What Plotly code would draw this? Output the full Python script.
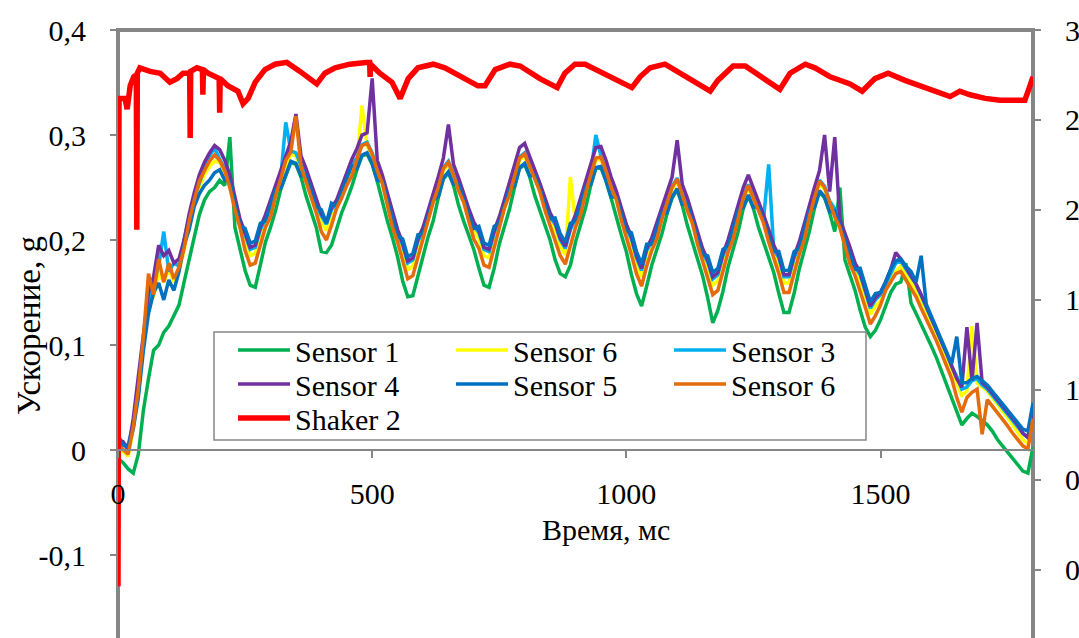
import plotly.graph_objects as go

# ---------------- data ----------------
time_ms = list(range(0, 1801, 10))

sensor1 = [
    -0.008, -0.012, -0.018, -0.022, -0.004, 0.038, 0.068, 0.095, 0.100, 0.112,
    0.118, 0.128, 0.138, 0.160, 0.182, 0.205, 0.224, 0.238, 0.246, 0.250,
    0.257, 0.252, 0.298, 0.212, 0.192, 0.171, 0.157, 0.155, 0.176, 0.198,
    0.212, 0.228, 0.248, 0.262, 0.274, 0.272, 0.260, 0.242, 0.228, 0.212,
    0.189, 0.188, 0.195, 0.212, 0.226, 0.238, 0.251, 0.267, 0.280, 0.282,
    0.272, 0.256, 0.236, 0.218, 0.202, 0.184, 0.161, 0.146, 0.147, 0.165,
    0.186, 0.203, 0.218, 0.240, 0.258, 0.264, 0.252, 0.233, 0.218, 0.204,
    0.191, 0.173, 0.157, 0.155, 0.173, 0.196, 0.212, 0.229, 0.250, 0.268,
    0.272, 0.260, 0.242, 0.228, 0.214, 0.200, 0.181, 0.168, 0.165, 0.176,
    0.198, 0.214, 0.231, 0.252, 0.268, 0.269, 0.256, 0.240, 0.221, 0.205,
    0.189, 0.167, 0.149, 0.137, 0.156, 0.176, 0.191, 0.206, 0.225, 0.240,
    0.248, 0.233, 0.214, 0.198, 0.182, 0.166, 0.145, 0.121, 0.133, 0.151,
    0.174, 0.191, 0.208, 0.230, 0.242, 0.230, 0.212, 0.198, 0.184, 0.169,
    0.149, 0.131, 0.131, 0.149, 0.172, 0.190, 0.208, 0.230, 0.246, 0.240,
    0.226, 0.208, 0.250, 0.181, 0.167, 0.152, 0.133, 0.117, 0.108, 0.114,
    0.124, 0.136, 0.150, 0.158, 0.160, 0.178, 0.140, 0.130, 0.120, 0.110,
    0.099, 0.088, 0.075, 0.062, 0.050, 0.037, 0.024, 0.030, 0.035, 0.032,
    0.028, 0.024, 0.018, 0.010, 0.004, -0.002, -0.008, -0.014, -0.020, -0.022, 0.003,
]

sensor6_yellow = [
    0.003, -0.002, -0.006, 0.020, 0.056, 0.100, 0.150, 0.145, 0.170, 0.160,
    0.172, 0.160, 0.170, 0.190, 0.215, 0.235, 0.250, 0.262, 0.270, 0.275,
    0.274, 0.264, 0.254, 0.233, 0.212, 0.199, 0.185, 0.187, 0.204, 0.216,
    0.230, 0.246, 0.256, 0.270, 0.282, 0.280, 0.268, 0.260, 0.246, 0.230,
    0.217, 0.209, 0.223, 0.230, 0.244, 0.256, 0.269, 0.275, 0.328, 0.290,
    0.280, 0.264, 0.254, 0.236, 0.220, 0.202, 0.189, 0.172, 0.175, 0.193,
    0.204, 0.221, 0.236, 0.248, 0.266, 0.272, 0.260, 0.251, 0.236, 0.222,
    0.209, 0.201, 0.185, 0.183, 0.201, 0.214, 0.230, 0.247, 0.258, 0.276,
    0.280, 0.268, 0.260, 0.246, 0.232, 0.218, 0.209, 0.194, 0.186, 0.260,
    0.216, 0.232, 0.249, 0.260, 0.276, 0.277, 0.264, 0.248, 0.239, 0.223,
    0.207, 0.195, 0.177, 0.165, 0.184, 0.194, 0.209, 0.224, 0.233, 0.248,
    0.256, 0.241, 0.232, 0.216, 0.200, 0.184, 0.173, 0.157, 0.161, 0.179,
    0.192, 0.209, 0.226, 0.238, 0.250, 0.238, 0.230, 0.216, 0.202, 0.187,
    0.177, 0.159, 0.159, 0.177, 0.190, 0.208, 0.226, 0.238, 0.254, 0.248,
    0.234, 0.226, 0.212, 0.199, 0.185, 0.170, 0.161, 0.145, 0.129, 0.137,
    0.142, 0.152, 0.162, 0.170, 0.175, 0.168, 0.160, 0.152, 0.142, 0.132,
    0.122, 0.111, 0.099, 0.087, 0.075, 0.062, 0.052, 0.056, 0.118, 0.064,
    0.060, 0.056, 0.050, 0.043, 0.037, 0.031, 0.024, 0.018, 0.010, 0.006, 0.035,
]

sensor3 = [
    0.015, 0.004, 0.005, 0.025, 0.060, 0.100, 0.140, 0.160, 0.175, 0.208,
    0.170, 0.178, 0.175, 0.200, 0.222, 0.240, 0.255, 0.268, 0.280, 0.288,
    0.277, 0.267, 0.258, 0.237, 0.216, 0.205, 0.191, 0.193, 0.210, 0.220,
    0.234, 0.250, 0.259, 0.312, 0.285, 0.283, 0.271, 0.264, 0.250, 0.234,
    0.223, 0.215, 0.229, 0.234, 0.248, 0.260, 0.273, 0.278, 0.291, 0.293,
    0.283, 0.267, 0.258, 0.240, 0.224, 0.206, 0.195, 0.178, 0.181, 0.199,
    0.208, 0.225, 0.240, 0.251, 0.269, 0.275, 0.263, 0.255, 0.240, 0.226,
    0.213, 0.207, 0.191, 0.189, 0.207, 0.218, 0.234, 0.251, 0.261, 0.279,
    0.283, 0.271, 0.264, 0.250, 0.236, 0.222, 0.215, 0.200, 0.192, 0.210,
    0.220, 0.236, 0.253, 0.263, 0.300, 0.280, 0.267, 0.251, 0.243, 0.227,
    0.211, 0.201, 0.183, 0.171, 0.190, 0.198, 0.213, 0.228, 0.236, 0.251,
    0.259, 0.244, 0.236, 0.220, 0.204, 0.188, 0.179, 0.163, 0.167, 0.185,
    0.196, 0.213, 0.230, 0.241, 0.253, 0.241, 0.234, 0.220, 0.272, 0.191,
    0.183, 0.165, 0.165, 0.183, 0.194, 0.212, 0.230, 0.241, 0.257, 0.251,
    0.237, 0.230, 0.216, 0.203, 0.189, 0.174, 0.167, 0.151, 0.135, 0.143,
    0.148, 0.158, 0.168, 0.178, 0.180, 0.172, 0.165, 0.158, 0.147, 0.137,
    0.127, 0.116, 0.104, 0.092, 0.080, 0.070, 0.058, 0.060, 0.066, 0.068,
    0.062, 0.058, 0.052, 0.046, 0.040, 0.034, 0.028, 0.022, 0.016, 0.012, 0.040,
]

sensor4 = [
    0.010, 0.008, 0.000, 0.030, 0.070, 0.110, 0.150, 0.165, 0.195, 0.185,
    0.190, 0.178, 0.182, 0.200, 0.225, 0.245, 0.262, 0.274, 0.283, 0.290,
    0.286, 0.276, 0.262, 0.241, 0.220, 0.207, 0.193, 0.195, 0.212, 0.224,
    0.238, 0.254, 0.268, 0.282, 0.294, 0.320, 0.280, 0.268, 0.254, 0.238,
    0.225, 0.217, 0.231, 0.238, 0.252, 0.264, 0.277, 0.287, 0.300, 0.302,
    0.354, 0.276, 0.262, 0.244, 0.228, 0.210, 0.197, 0.180, 0.183, 0.201,
    0.212, 0.229, 0.244, 0.260, 0.278, 0.310, 0.272, 0.259, 0.244, 0.230,
    0.217, 0.209, 0.193, 0.191, 0.209, 0.222, 0.238, 0.255, 0.270, 0.288,
    0.292, 0.280, 0.268, 0.254, 0.240, 0.226, 0.217, 0.202, 0.194, 0.212,
    0.224, 0.240, 0.257, 0.272, 0.288, 0.289, 0.276, 0.260, 0.247, 0.231,
    0.215, 0.203, 0.185, 0.173, 0.192, 0.202, 0.217, 0.232, 0.245, 0.260,
    0.295, 0.253, 0.240, 0.224, 0.208, 0.192, 0.181, 0.165, 0.169, 0.187,
    0.200, 0.217, 0.234, 0.250, 0.262, 0.250, 0.238, 0.224, 0.210, 0.195,
    0.185, 0.167, 0.167, 0.185, 0.198, 0.216, 0.234, 0.250, 0.266, 0.300,
    0.246, 0.298, 0.220, 0.207, 0.193, 0.178, 0.169, 0.153, 0.137, 0.145,
    0.150, 0.160, 0.172, 0.188, 0.182, 0.174, 0.166, 0.158, 0.148, 0.137,
    0.127, 0.116, 0.104, 0.092, 0.080, 0.068, 0.060, 0.117, 0.066, 0.121,
    0.064, 0.060, 0.054, 0.048, 0.042, 0.036, 0.030, 0.024, 0.016, 0.012, 0.040,
]

sensor5 = [
    0.012, 0.005, 0.003, 0.020, 0.050, 0.095, 0.130, 0.150, 0.159, 0.143,
    0.162, 0.152, 0.170, 0.195, 0.210, 0.232, 0.244, 0.252, 0.257, 0.264,
    0.267, 0.257, 0.256, 0.235, 0.214, 0.211, 0.197, 0.199, 0.216, 0.218,
    0.232, 0.248, 0.249, 0.263, 0.275, 0.273, 0.261, 0.262, 0.248, 0.232,
    0.229, 0.216, 0.235, 0.232, 0.246, 0.258, 0.271, 0.268, 0.281, 0.283,
    0.273, 0.257, 0.256, 0.238, 0.222, 0.204, 0.201, 0.184, 0.187, 0.205,
    0.206, 0.223, 0.238, 0.241, 0.259, 0.265, 0.253, 0.253, 0.238, 0.224,
    0.211, 0.213, 0.197, 0.195, 0.213, 0.216, 0.232, 0.249, 0.251, 0.269,
    0.273, 0.261, 0.262, 0.248, 0.234, 0.220, 0.221, 0.206, 0.198, 0.216,
    0.218, 0.234, 0.251, 0.253, 0.269, 0.270, 0.257, 0.241, 0.241, 0.225,
    0.209, 0.207, 0.189, 0.177, 0.196, 0.196, 0.211, 0.226, 0.226, 0.241,
    0.249, 0.234, 0.234, 0.218, 0.202, 0.186, 0.185, 0.169, 0.173, 0.191,
    0.194, 0.211, 0.228, 0.231, 0.243, 0.231, 0.232, 0.218, 0.204, 0.189,
    0.189, 0.171, 0.171, 0.189, 0.192, 0.210, 0.228, 0.231, 0.247, 0.241,
    0.227, 0.228, 0.214, 0.201, 0.187, 0.172, 0.173, 0.157, 0.141, 0.149,
    0.150, 0.160, 0.172, 0.180, 0.182, 0.175, 0.170, 0.160, 0.185, 0.139,
    0.128, 0.117, 0.105, 0.093, 0.082, 0.108, 0.064, 0.064, 0.068, 0.070,
    0.066, 0.062, 0.056, 0.050, 0.044, 0.038, 0.032, 0.026, 0.020, 0.018, 0.045,
]

sensor6_orange = [
    0.005, 0.000, -0.004, 0.022, 0.058, 0.108, 0.168, 0.148, 0.182, 0.160,
    0.178, 0.163, 0.174, 0.192, 0.218, 0.238, 0.256, 0.266, 0.275, 0.281,
    0.276, 0.266, 0.250, 0.229, 0.212, 0.190, 0.176, 0.178, 0.195, 0.212,
    0.222, 0.242, 0.258, 0.276, 0.284, 0.318, 0.270, 0.256, 0.242, 0.226,
    0.208, 0.200, 0.214, 0.230, 0.240, 0.252, 0.261, 0.277, 0.290, 0.292,
    0.282, 0.266, 0.254, 0.232, 0.212, 0.198, 0.180, 0.163, 0.166, 0.184,
    0.200, 0.217, 0.236, 0.250, 0.268, 0.274, 0.262, 0.247, 0.236, 0.218,
    0.201, 0.192, 0.176, 0.174, 0.192, 0.210, 0.230, 0.243, 0.260, 0.278,
    0.282, 0.270, 0.256, 0.246, 0.228, 0.214, 0.200, 0.185, 0.177, 0.195,
    0.212, 0.224, 0.245, 0.262, 0.278, 0.279, 0.266, 0.250, 0.239, 0.219,
    0.203, 0.186, 0.168, 0.156, 0.175, 0.190, 0.201, 0.220, 0.235, 0.250,
    0.258, 0.243, 0.228, 0.216, 0.196, 0.180, 0.164, 0.148, 0.152, 0.170,
    0.188, 0.201, 0.222, 0.240, 0.252, 0.240, 0.226, 0.216, 0.198, 0.183,
    0.168, 0.150, 0.150, 0.168, 0.186, 0.200, 0.222, 0.240, 0.256, 0.250,
    0.236, 0.222, 0.212, 0.195, 0.177, 0.166, 0.152, 0.136, 0.120, 0.128,
    0.138, 0.152, 0.160, 0.168, 0.170, 0.162, 0.155, 0.146, 0.135, 0.125,
    0.115, 0.104, 0.092, 0.080, 0.068, 0.050, 0.036, 0.050, 0.055, 0.058,
    0.015, 0.048, 0.042, 0.035, 0.029, 0.023, 0.016, 0.010, 0.004, 0.001, 0.030,
]

shaker_t = [
    0, 2, 14, 18, 24, 31, 36, 37, 38, 43,
    63, 83, 102, 116, 128, 141, 142, 143, 155, 166,
    167, 168, 177, 199, 200, 201, 216, 236, 246, 256,
    270, 289, 309, 332, 358, 378, 391, 407, 427, 456,
    476, 488, 495, 496, 497, 515, 539, 555, 571, 590,
    620, 643, 673, 708, 722, 742, 771, 791, 830, 864,
    879, 899, 919, 948, 988, 1011, 1027, 1047, 1076, 1106,
    1139, 1165, 1180, 1210, 1234, 1273, 1302, 1322, 1352, 1371,
    1401, 1440, 1464, 1489, 1515, 1548, 1597, 1637, 1656, 1676,
    1706, 1735, 1765, 1784, 1794, 1800,
]
shaker2 = [
    -0.09, 2.62, 2.62, 2.56, 2.69, 2.74, 2.75, 1.89, 2.76, 2.79,
    2.77, 2.76, 2.71, 2.73, 2.76, 2.76, 2.40, 2.77, 2.79, 2.78,
    2.64, 2.78, 2.76, 2.73, 2.54, 2.73, 2.69, 2.66, 2.59, 2.62,
    2.71, 2.78, 2.81, 2.82, 2.77, 2.73, 2.70, 2.76, 2.79, 2.81,
    2.82, 2.82, 2.82, 2.74, 2.81, 2.76, 2.71, 2.62, 2.73, 2.79,
    2.81, 2.79, 2.74, 2.69, 2.69, 2.78, 2.81, 2.80, 2.73, 2.68,
    2.76, 2.81, 2.81, 2.77, 2.72, 2.68, 2.74, 2.79, 2.81, 2.76,
    2.71, 2.66, 2.72, 2.80, 2.80, 2.73, 2.67, 2.76, 2.81, 2.79,
    2.74, 2.70, 2.66, 2.73, 2.76, 2.72, 2.67, 2.63, 2.66, 2.64,
    2.62, 2.61, 2.61, 2.61, 2.69, 2.74,
]

x_tick_vals = [0, 500, 1000, 1500]
x_tick_text = ["0", "500", "1000", "1500"]
y_tick_vals = [0.4, 0.3, 0.2, 0.1, 0, -0.1]
y_tick_text = ["0,4", "0,3", "0,2", "0,1", "0", "-0,1"]
y2_tick_vals = [0, 0.5, 1, 1.5, 2, 2.5, 3]
y2_tick_text = ["0", "0,5", "1", "1,5", "2", "2,5", "3"]

# ---------------- layout geometry (pixels) ----------------
W, H = 1079, 638
L, R, T, B = 118, 1033, 30, 638
Y_RANGE = [-0.179, 0.4]
Y2_RANGE = [-0.378, 3.0]
FONT = "Times New Roman, Liberation Serif, serif"
FS = 30
GRAY = "#868686"


def fx(p):
    return (p - L) / (R - L)


def fy(p):
    return (B - p) / (B - T)


fig = go.Figure()

sensor_series = [
    ("Sensor 1", sensor1, "#00B050", "legend"),
    ("Sensor 6", sensor6_yellow, "#FFFF00", "legend"),
    ("Sensor 3", sensor3, "#00B0F0", "legend"),
    ("Sensor 4", sensor4, "#7030A0", "legend2"),
    ("Sensor 5", sensor5, "#0070C0", "legend2"),
    ("Sensor 6", sensor6_orange, "#E46C0A", "legend2"),
]
for name, vals, color, leg in sensor_series:
    assert len(vals) == len(time_ms), name
    fig.add_trace(go.Scatter(
        x=time_ms, y=vals, mode="lines", name=name,
        line=dict(color=color, width=3.5), legend=leg,
    ))

assert len(shaker_t) == len(shaker2)
fig.add_trace(go.Scatter(
    x=shaker_t, y=shaker2, mode="lines", name="Shaker 2",
    line=dict(color="#FF0000", width=5.5), yaxis="y2", legend="legend3",
))

zero_pos = (0 - Y_RANGE[0]) / (Y_RANGE[1] - Y_RANGE[0])

legend_common = dict(
    orientation="h", xanchor="left", yanchor="middle",
    bgcolor="rgba(0,0,0,0)", borderwidth=0,
    font=dict(family=FONT, size=FS, color="black"),
    entrywidth=151, itemwidth=52, tracegroupgap=0,
)

fig.update_layout(
    width=W, height=H,
    template="none",
    paper_bgcolor="white", plot_bgcolor="white",
    margin=dict(l=L, r=W - R, t=T, b=0, pad=0),
    showlegend=True,
    font=dict(family=FONT, size=FS, color="black"),
    xaxis=dict(
        range=[0, 1800], anchor="free", position=zero_pos,
        showline=True, linecolor=GRAY, linewidth=1.5,
        ticks="outside", ticklen=7, tickwidth=1.5, tickcolor=GRAY,
        tickvals=x_tick_vals, ticktext=x_tick_text,
        tickfont=dict(family=FONT, size=FS, color="black"),
        ticklabelstandoff=10,
        showgrid=False, zeroline=False, automargin=False,
    ),
    yaxis=dict(
        range=Y_RANGE, showline=False,
        ticks="outside", ticklen=7, tickwidth=1.5, tickcolor=GRAY,
        tickvals=y_tick_vals, ticktext=y_tick_text,
        tickfont=dict(family=FONT, size=FS, color="black"),
        ticklabelstandoff=18,
        showgrid=False, zeroline=False, automargin=False,
    ),
    yaxis2=dict(
        range=Y2_RANGE, overlaying="y", side="right", showline=False,
        ticks="outside", ticklen=7, tickwidth=1.5, tickcolor=GRAY,
        tickvals=y2_tick_vals, ticktext=y2_tick_text,
        tickfont=dict(family=FONT, size=FS, color="black"),
        ticklabelstandoff=18,
        showgrid=False, zeroline=False, automargin=False,
    ),
    legend=dict(x=fx(233), y=fy(350), **legend_common),
    legend2=dict(x=fx(233), y=fy(384), **legend_common),
    legend3=dict(x=fx(233), y=fy(418), **legend_common),
    shapes=[
        # plot area frame (drawn under the data, as in the original)
        dict(type="rect", xref="paper", yref="paper",
             x0=0, x1=1, y0=-0.02, y1=1,
             line=dict(color=GRAY, width=4), fillcolor="rgba(0,0,0,0)",
             layer="below"),
        # legend box
        dict(type="rect", xref="paper", yref="paper",
             x0=fx(214), x1=fx(866), y0=fy(440), y1=fy(332),
             line=dict(color=GRAY, width=1.5), fillcolor="white",
             layer="above"),
    ],
    annotations=[
        dict(text="Время, мс", xref="paper", yref="paper",
             x=fx(606), y=fy(529), xanchor="center", yanchor="middle",
             showarrow=False, font=dict(family=FONT, size=FS, color="black")),
        dict(text="Ускорение, g", xref="paper", yref="paper",
             x=fx(29), y=fy(326), xanchor="center", yanchor="middle",
             textangle=-90, showarrow=False,
             font=dict(family=FONT, size=33, color="black")),
    ],
)

fig.write_html("out.html")
